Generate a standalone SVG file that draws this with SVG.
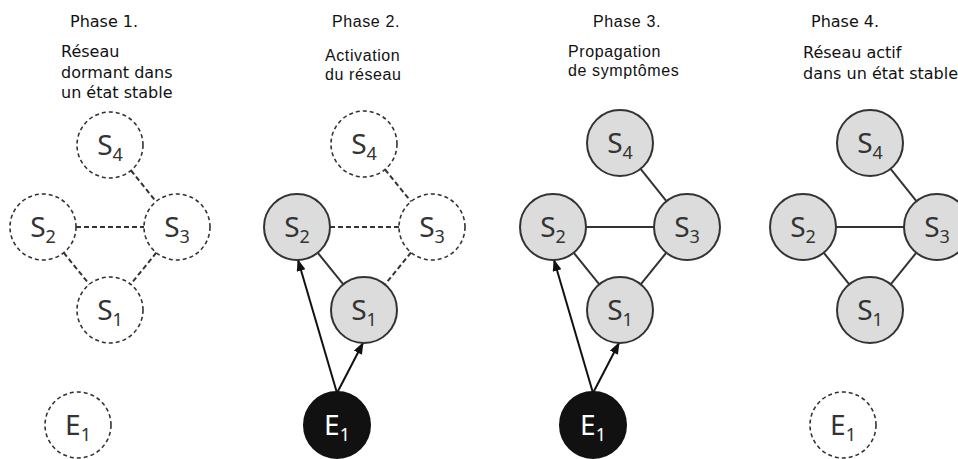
<svg xmlns="http://www.w3.org/2000/svg" width="958" height="459" viewBox="0 0 958 459">
<style>
.bg{fill:#ffffff}
.hd1{font-family:"DejaVu Sans",sans-serif;font-size:16px;fill:#111}
.bd1{font-family:"DejaVu Sans",sans-serif;font-size:16px;fill:#111}
.hd2{font-family:"Liberation Sans",Arial,sans-serif;font-size:16px;letter-spacing:0.6px;fill:#111}
.nd{stroke:#333;stroke-width:2;fill:#dcdcdc}
.nd-dash{stroke:#333;stroke-width:1.6;fill:#fff;stroke-dasharray:4 3}
.nd-black{stroke:#111;stroke-width:2;fill:#111}
.lbl{font-family:"Noto Sans","Open Sans",sans-serif;font-size:28px;fill:#333;text-anchor:middle}
.lbl-w{font-family:"Noto Sans","Open Sans",sans-serif;font-size:28px;fill:#fff;text-anchor:middle}
.sub{font-size:18px}
.e-solid{stroke:#333;stroke-width:2;fill:none}
.e-dash{stroke:#333;stroke-width:2;fill:none;stroke-dasharray:5 3}
.arr{stroke:#111;stroke-width:2;fill:none;marker-end:url(#ah)}
</style>
<defs>
<marker id="ah" markerUnits="userSpaceOnUse" markerWidth="12" markerHeight="10" refX="11" refY="4.5" orient="auto">
<path d="M0,0 L12,4.5 L0,9 z" fill="#111"/>
</marker>
</defs>
<rect class="bg" x="0" y="0" width="958" height="459"/>

<!-- Titles -->
<g id="titles">
<text class="hd1" x="70" y="27">Phase 1.</text>
<text class="bd1" x="61" y="57">Réseau</text>
<text class="bd1" x="61" y="78">dormant dans</text>
<text class="bd1" x="61" y="98">un état stable</text>
<text class="hd2" x="332" y="27">Phase 2.</text>
<text class="hd2" x="325" y="61">Activation</text>
<text class="hd2" x="325" y="80">du réseau</text>
<text class="hd2" x="593" y="27">Phase 3.</text>
<text class="hd2" x="568" y="57">Propagation</text>
<text class="hd2" x="568" y="76">de symptômes</text>
<text class="hd1" x="811" y="27">Phase 4.</text>
<text class="bd1" x="803" y="58">Réseau actif</text>
<text class="bd1" x="803" y="79">dans un état stable</text>
</g>

<!-- Connectors -->
<g id="connectors">
<!-- Phase 1 -->
<line class="e-dash" x1="131" y1="170.5" x2="156" y2="201.5"/>
<line class="e-dash" x1="76" y1="227" x2="144" y2="227"/>
<line class="e-dash" x1="63.7" y1="252.7" x2="89.3" y2="284.3"/>
<line class="e-dash" x1="156.3" y1="252.7" x2="130.7" y2="284.3"/>
<!-- Phase 2 -->
<line class="e-dash" x1="385" y1="169.5" x2="411" y2="201.5"/>
<line class="e-dash" x1="330" y1="227" x2="399" y2="227"/>
<line class="e-solid" x1="317.7" y1="252.7" x2="343.3" y2="284.3"/>
<line class="e-dash" x1="411" y1="252.5" x2="385" y2="284.5"/>
<line class="arr" x1="337" y1="393" x2="298" y2="260"/>
<line class="arr" x1="337" y1="393" x2="363" y2="343"/>
<!-- Phase 3 -->
<line class="e-solid" x1="640.6" y1="168.8" x2="666.4" y2="201.2"/>
<line class="e-solid" x1="586" y1="227" x2="654" y2="227"/>
<line class="e-solid" x1="573.7" y1="252.7" x2="599.3" y2="284.3"/>
<line class="e-solid" x1="666.3" y1="252.7" x2="640.7" y2="284.3"/>
<line class="arr" x1="593" y1="393" x2="554" y2="260"/>
<line class="arr" x1="593" y1="393" x2="619" y2="343"/>
<!-- Phase 4 -->
<line class="e-solid" x1="890.6" y1="168.8" x2="916.4" y2="201.2"/>
<line class="e-solid" x1="836" y1="227" x2="904" y2="227"/>
<line class="e-solid" x1="823.7" y1="252.7" x2="849.3" y2="284.3"/>
<line class="e-solid" x1="916.3" y1="252.7" x2="890.7" y2="284.3"/>
</g>

<!-- Phase 1 nodes -->
<g id="p1-S4"><circle class="nd-dash" cx="110" cy="145" r="33"/><text class="lbl" x="110" y="155">S<tspan class="sub" dy="6">4</tspan></text></g>
<g id="p1-S2"><circle class="nd-dash" cx="43" cy="227" r="33"/><text class="lbl" x="43" y="237">S<tspan class="sub" dy="6">2</tspan></text></g>
<g id="p1-S3"><circle class="nd-dash" cx="177" cy="227" r="33"/><text class="lbl" x="177" y="237">S<tspan class="sub" dy="6">3</tspan></text></g>
<g id="p1-S1"><circle class="nd-dash" cx="110" cy="310" r="33"/><text class="lbl" x="110" y="320">S<tspan class="sub" dy="6">1</tspan></text></g>
<g id="p1-E1"><circle class="nd-dash" cx="78" cy="425" r="33"/><text class="lbl" x="78" y="435">E<tspan class="sub" dy="6">1</tspan></text></g>

<!-- Phase 2 nodes -->
<g id="p2-S4"><circle class="nd-dash" cx="364" cy="144" r="33"/><text class="lbl" x="364" y="154">S<tspan class="sub" dy="6">4</tspan></text></g>
<g id="p2-S2"><circle class="nd" cx="297" cy="227" r="33"/><text class="lbl" x="297" y="237">S<tspan class="sub" dy="6">2</tspan></text></g>
<g id="p2-S3"><circle class="nd-dash" cx="432" cy="227" r="33"/><text class="lbl" x="432" y="237">S<tspan class="sub" dy="6">3</tspan></text></g>
<g id="p2-S1"><circle class="nd" cx="364" cy="310" r="33"/><text class="lbl" x="364" y="320">S<tspan class="sub" dy="6">1</tspan></text></g>
<g id="p2-E1"><circle class="nd-black" cx="337" cy="425" r="33"/><text class="lbl-w" x="337" y="435">E<tspan class="sub" dy="6">1</tspan></text></g>

<!-- Phase 3 nodes -->
<g id="p3-S4"><circle class="nd" cx="620" cy="143" r="33"/><text class="lbl" x="620" y="153">S<tspan class="sub" dy="6">4</tspan></text></g>
<g id="p3-S2"><circle class="nd" cx="553" cy="227" r="33"/><text class="lbl" x="553" y="237">S<tspan class="sub" dy="6">2</tspan></text></g>
<g id="p3-S3"><circle class="nd" cx="687" cy="227" r="33"/><text class="lbl" x="687" y="237">S<tspan class="sub" dy="6">3</tspan></text></g>
<g id="p3-S1"><circle class="nd" cx="620" cy="310" r="33"/><text class="lbl" x="620" y="320">S<tspan class="sub" dy="6">1</tspan></text></g>
<g id="p3-E1"><circle class="nd-black" cx="593" cy="425" r="33"/><text class="lbl-w" x="593" y="435">E<tspan class="sub" dy="6">1</tspan></text></g>

<!-- Phase 4 nodes -->
<g id="p4-S4"><circle class="nd" cx="870" cy="143" r="33"/><text class="lbl" x="870" y="153">S<tspan class="sub" dy="6">4</tspan></text></g>
<g id="p4-S2"><circle class="nd" cx="803" cy="227" r="33"/><text class="lbl" x="803" y="237">S<tspan class="sub" dy="6">2</tspan></text></g>
<g id="p4-S3"><circle class="nd" cx="937" cy="227" r="33"/><text class="lbl" x="937" y="237">S<tspan class="sub" dy="6">3</tspan></text></g>
<g id="p4-S1"><circle class="nd" cx="870" cy="310" r="33"/><text class="lbl" x="870" y="320">S<tspan class="sub" dy="6">1</tspan></text></g>
<g id="p4-E1"><circle class="nd-dash" cx="843" cy="425" r="33"/><text class="lbl" x="843" y="435">E<tspan class="sub" dy="6">1</tspan></text></g>
</svg>
